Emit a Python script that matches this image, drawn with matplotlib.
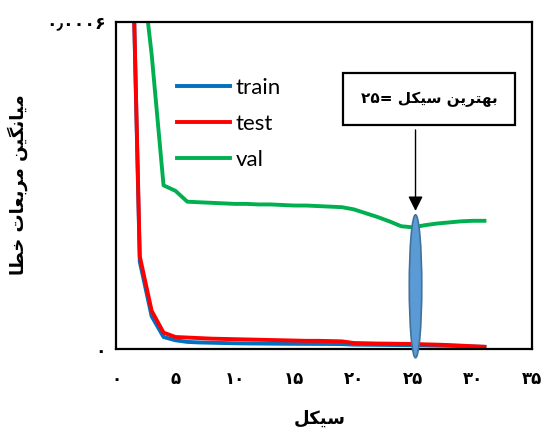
import matplotlib
matplotlib.use("Agg")
import matplotlib.pyplot as plt
from matplotlib.patches import Ellipse, Rectangle

# epochs and loss values
epochs = list(range(1, 32))
train = [0.0011, 0.00016, 0.00006, 0.000022, 0.000016, 0.000013, 0.000012,
         0.0000115, 0.000011, 0.0000105, 0.0000102, 0.00001, 0.0000098,
         0.0000096, 0.0000095, 0.0000094, 0.0000093, 0.0000092, 0.000009,
         0.000008, 0.0000078, 0.0000076, 0.0000074, 0.0000072, 0.000007,
         0.0000066, 0.0000062, 0.0000058, 0.0000052, 0.0000046, 0.000004]
test = [0.0011, 0.00017, 0.00007, 0.00003, 0.000022, 0.000021, 0.00002,
        0.000019, 0.0000185, 0.000018, 0.0000175, 0.000017, 0.0000165,
        0.000016, 0.0000155, 0.000015, 0.000015, 0.0000145, 0.000014,
        0.000011, 0.0000105, 0.00001, 0.0000098, 0.0000095, 0.0000092,
        0.0000085, 0.000008, 0.0000072, 0.0000062, 0.000005, 0.000004]
val = [0.0009, 0.00073, 0.00054, 0.0003, 0.00029, 0.00027, 0.000269,
       0.000268, 0.000267, 0.000266, 0.000266, 0.000265, 0.000265,
       0.000264, 0.000263, 0.000263, 0.000262, 0.000261, 0.00026,
       0.000256, 0.000249, 0.000242, 0.000234, 0.000225, 0.000223,
       0.000227, 0.00023, 0.000232, 0.000234, 0.000235, 0.000235]

best_epoch = 25.2

# persian labels, pre-shaped (presentation forms, visual order)
xticks = [0, 5, 10, 15, 20, 25, 30, 35]
xtick_labels = ["\u06f0", "\u06f5", "\u06f1\u06f0", "\u06f1\u06f5",
                "\u06f2\u06f0", "\u06f2\u06f5", "\u06f3\u06f0", "\u06f3\u06f5"]
yticks = [0, 0.0006]
ytick_labels = ["\u06f0", "\u06f0\u066b\u06f0\u06f0\u06f0\u06f6"]

w_cycle = "\ufede\ufb91\ufbff\ufeb3"                  # سیکل
w_best = "\ufee6\ufbfe\ufeae\ufe98\ufeec\ufe91"       # بهترین
w_mean = "\ufee6\ufbff\ufb95\ufee7\ufe8e\ufbff\ufee3" # میانگین
w_sq = "\ufe95\ufe8e\ufecc\ufe91\ufeae\ufee3"         # مربعات
w_err = "\ufe8e\ufec4\ufea7"                          # خطا
xlabel = w_cycle
ylabel = w_err + " " + w_sq + " " + w_mean
note = "\u06f2\u06f5= " + w_cycle + " " + w_best

fa = ["DejaVu Sans"]

fig = plt.figure(figsize=(5.47, 4.34), dpi=100)
ax = fig.add_axes([116/547, 1 - 349/434, 416/547, (349 - 21.7)/434])

ax.plot(epochs, train, color="#0070C0", lw=2.8, label="train", solid_joinstyle="round")
ax.plot(epochs, test, color="#FF0000", lw=2.8, label="test", solid_joinstyle="round")
ax.plot(epochs, val, color="#00B050", lw=2.8, label="val", solid_joinstyle="round")

ax.set_xlim(0, 35)
ax.set_ylim(0, 0.0006)
ax.set_xticks(xticks)
ax.set_xticklabels(xtick_labels, family=fa, fontweight="bold", fontsize=12)
ax.set_yticks(yticks)
ax.set_yticklabels(ytick_labels, family=fa, fontweight="bold", fontsize=12.5)
ax.tick_params(length=0)
ax.tick_params(axis="x", pad=15)
ax.tick_params(axis="y", pad=7)
for s in ax.spines.values():
    s.set_linewidth(1.6)
    s.set_color("black")

ax.set_xlabel(xlabel, family=fa, fontweight="bold", fontsize=13)
ax.xaxis.set_label_coords((320 - 116)/416, (349 - 410)/327.3)
ax.set_ylabel(ylabel, family=fa, fontweight="bold", fontsize=13)
ax.yaxis.set_label_coords((28 - 116)/416, (349 - 185)/327.3)

leg = ax.legend(loc="upper left", bbox_to_anchor=(177/547, 1 - 78/434),
                bbox_transform=fig.transFigure, frameon=False,
                prop={"family": "Lato", "size": 16}, handlelength=2.4,
                handletextpad=0.25, labelspacing=0.72, borderpad=0, borderaxespad=0)

# marker on best epoch
ell = Ellipse((best_epoch, 0.000115), width=1.05, height=0.000262,
              facecolor="#5B9BD5", edgecolor="#41719C", lw=1.2, zorder=5, clip_on=False)
ax.add_patch(ell)

box_x0, box_x1 = (343 - 116)/416*35, (515 - 116)/416*35
box_y0, box_y1 = (349 - 125)/327.3*0.0006, (349 - 73)/327.3*0.0006
ax.add_patch(Rectangle((box_x0, box_y0), box_x1 - box_x0, box_y1 - box_y0,
                       facecolor="white", edgecolor="black", lw=1.6, zorder=6, clip_on=False))
ax.text((box_x0 + box_x1)/2, (box_y0 + box_y1)/2, note, family=fa, fontweight="bold",
        fontsize=11, ha="center", va="center", zorder=7)
ax.annotate("", xy=(best_epoch, 0.000248), xytext=(best_epoch, box_y0 - 0.000004),
            arrowprops=dict(arrowstyle="-|>", color="black", lw=1, mutation_scale=22),
            zorder=7)

fig.savefig("out.png", dpi=100)
